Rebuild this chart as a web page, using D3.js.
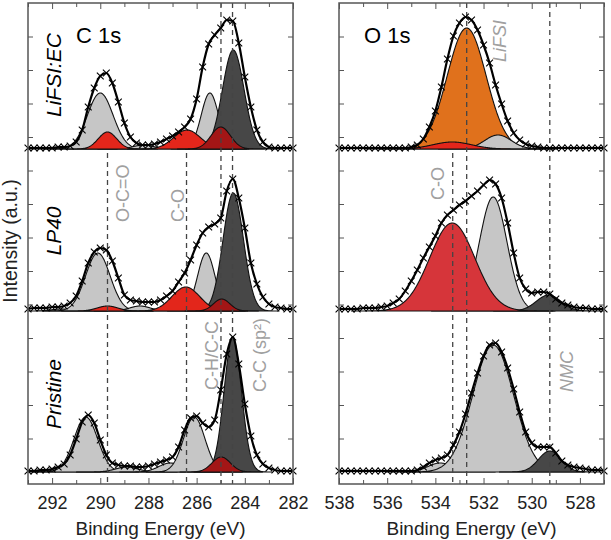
<!DOCTYPE html>
<html><head><meta charset="utf-8">
<script src="https://cdn.jsdelivr.net/npm/d3@7"></script>
<style>
body{margin:0;background:#fff}
svg{display:block}
text{font-family:"Liberation Sans",Arial,sans-serif}
</style>
</head><body>
<svg id="c" width="611" height="540"></svg>
<script>
// ---------- DATA ----------
// binding-energy grids (eV), 0.25 eV steps
const c1sEnergy = d3.range(0, 45).map(i => 293 - i * 0.25);
const o1sEnergy = d3.range(0, 45).map(i => 538 - i * 0.25);
const samples = ["LiFSI:EC", "LP40", "Pristine"];

// measured spectra (a.u.)
const c1sLiFSI = [1,1,1,1,1,2,2,3,7,19,42,61,73,76,66,47,26,12,6,4,4,5,7,10,13,17,22,30,50,82,105,114,121,129,128,106,72,42,19,7,2,1,1,1,1];
const c1sLP40 = [2,3,3,3,4,4,5,8,15,30,48,59,63,61,50,33,16,11,10,9,9,9,11,15,20,29,38,51,66,78,84,87,93,120,132,113,83,48,27,14,7,4,3,2,2];
const c1sPristine = [1,1,2,2,3,5,8,17,33,50,57,49,32,17,9,7,6,6,5,5,6,8,10,12,15,25,42,54,56,49,45,52,82,118,135,108,68,36,17,8,4,2,1,1,1];
const o1sLiFSI = [1,1,1,1,1,1,1,1,1,1,1,1,2,4,10,22,38,62,90,113,126,132,129,119,104,86,64,45,28,16,9,5,3,2,1,1,1,1,1,1,1,1,1,1,1];
const o1sLP40 = [2,2,2,2,3,3,3,4,5,8,12,20,30,41,53,64,75,88,96,101,106,110,115,120,126,131,127,113,88,58,33,22,18,19,19,17,12,8,6,4,3,3,2,2,2];
const o1sPristine = [1,1,1,1,1,1,1,1,1,1,1,1,1,2,5,9,12,14,17,27,40,58,79,99,116,127,129,120,104,83,60,40,29,25,25,25,19,11,7,5,4,3,2,2,1];

// fitted components: centre (eV), height (a.u.), FWHM (eV), species
const c1sLiFSIPos = [291.2, 290.0, 288.2, 285.45, 284.48, 289.7, 286.4, 285.0];
const c1sLiFSIHt  = [2, 56, 4, 56, 99, 17, 19, 22];
const c1sLiFSIFw  = [1.0, 1.25, 1.0, 0.85, 1.05, 0.9, 1.3, 0.95];
const c1sLiFSIKind = ["lg","lg","lg","lg","dg","r","r","dr"];

const c1sLP40Pos = [291.6, 290.1, 288.35, 285.6, 284.48, 289.7, 286.45, 284.96];
const c1sLP40Ht  = [2, 58, 5, 58, 118, 5, 24, 12];
const c1sLP40Fw  = [1.0, 1.2, 1.0, 0.85, 1.0, 1.0, 1.35, 0.8];
const c1sLP40Kind = ["lg","lg","lg","lg","dg","r","r","dr"];

const c1sPristinePos = [291.9, 290.6, 288.9, 287.1, 286.1, 284.5, 284.98];
const c1sPristineHt  = [2, 55, 5, 9, 55, 134, 15];
const c1sPristineFw  = [1.0, 1.15, 1.1, 1.1, 1.05, 0.85, 0.9];
const c1sPristineKind = ["lg","lg","lg","lg","lg","dg","dr"];

const o1sLiFSIPos = [532.7, 531.4, 533.3];
const o1sLiFSIHt  = [121, 14, 7];
const o1sLiFSIFw  = [1.9, 1.3, 1.9];
const o1sLiFSIKind = ["or","lg","r"];

const o1sLP40Pos = [531.6, 529.3, 533.3];
const o1sLP40Ht  = [114, 16, 88];
const o1sLP40Fw  = [1.35, 1.2, 2.2];
const o1sLP40Kind = ["lg","dg","r2"];

const o1sPristinePos = [533.8, 531.6, 529.25];
const o1sPristineHt  = [9, 127, 21];
const o1sPristineFw  = [1.2, 2.0, 1.1];
const o1sPristineKind = ["lg","lg","dg"];

// reference binding energies (dashed lines)
const c1sRefs = [289.7, 286.42, 284.99, 284.51];
const o1sRefs = [533.28, 532.7, 529.25];
const c1sTicks = d3.range(282, 294, 1);
const o1sTicks = d3.range(527, 539, 1);

// ---------- DRAW ----------
const svg = d3.select("#c");
const xL = d3.scaleLinear().domain([293, 282]).range([28, 293]);
const xR = d3.scaleLinear().domain([538, 527]).range([339, 604]);
const y = d3.scaleLinear().domain([-12, 469]).range([484, 3]);
const offsets = [323, 161, 0];
const colors = {lg:"#c6c6c6", dg:"#474747", r:"#e3261b", dr:"#a31616", or:"#e0711c", r2:"#d6353a"};

const panels = [
  {x:xL, E:c1sEnergy, d:c1sLiFSI, p:c1sLiFSIPos, h:c1sLiFSIHt, w:c1sLiFSIFw, k:c1sLiFSIKind, off:offsets[0]},
  {x:xL, E:c1sEnergy, d:c1sLP40, p:c1sLP40Pos, h:c1sLP40Ht, w:c1sLP40Fw, k:c1sLP40Kind, off:offsets[1]},
  {x:xL, E:c1sEnergy, d:c1sPristine, p:c1sPristinePos, h:c1sPristineHt, w:c1sPristineFw, k:c1sPristineKind, off:offsets[2]},
  {x:xR, E:o1sEnergy, d:o1sLiFSI, p:o1sLiFSIPos, h:o1sLiFSIHt, w:o1sLiFSIFw, k:o1sLiFSIKind, off:offsets[0]},
  {x:xR, E:o1sEnergy, d:o1sLP40, p:o1sLP40Pos, h:o1sLP40Ht, w:o1sLP40Fw, k:o1sLP40Kind, off:offsets[1]},
  {x:xR, E:o1sEnergy, d:o1sPristine, p:o1sPristinePos, h:o1sPristineHt, w:o1sPristineFw, k:o1sPristineKind, off:offsets[2]}
];

const gauss = (e, c, h, w) => h * Math.exp(-4 * Math.LN2 * (e - c) * (e - c) / (w * w));

panels.forEach(P => {
  const g = svg.append("g");
  const [d0, d1] = P.x.domain();
  P.p.forEach((c, i) => {
    const lo = Math.max(Math.min(d0, d1), c - 1.9 * P.w[i]);
    const hi = Math.min(Math.max(d0, d1), c + 1.9 * P.w[i]);
    const es = d3.range(lo, hi + 1e-9, 0.02);
    const area = d3.area()
      .x(e => P.x(e))
      .y0(y(P.off))
      .y1(e => y(P.off + gauss(e, c, P.h[i], P.w[i])));
    g.append("path").datum(es).attr("d", area)
      .attr("fill", colors[P.k[i]]).attr("stroke", "#111").attr("stroke-width", 1.1)
      .attr("stroke-linejoin", "round");
  });
});

// dashed reference lines
const dash = svg.append("g").attr("stroke", "#444").attr("stroke-width", 1.3).attr("stroke-dasharray", "5,4");
c1sRefs.forEach((e, i) => {
  dash.append("line").attr("x1", xL(e)).attr("x2", xL(e))
    .attr("y1", i < 2 ? y(offsets[0]) + 4 : 3).attr("y2", 484);
});
o1sRefs.forEach((e, i) => {
  dash.append("line").attr("x1", xR(e)).attr("x2", xR(e))
    .attr("y1", i === 0 ? y(offsets[0]) + 4 : 3).attr("y2", 484);
});

// measured envelopes with markers
panels.forEach(P => {
  const g = svg.append("g");
  const pts = P.E.map((e, i) => [e, P.d[i]]);
  g.append("path").datum(pts)
    .attr("d", d3.line().x(d => P.x(d[0])).y(d => y(P.off + d[1])).curve(d3.curveMonotoneX))
    .attr("fill", "none").attr("stroke", "#000").attr("stroke-width", 2.2);
  g.selectAll("path.m").data(pts).join("path").attr("class", "m")
    .attr("transform", d => `translate(${P.x(d[0])},${y(P.off + d[1])})`)
    .attr("d", d3.symbol(d3.symbolX, 32))
    .attr("fill", "none").attr("stroke", "#000").attr("stroke-width", 1.1);
});

// frames and axes
const yTickVals = d3.range(1, 14).map(k => k * 33.5);
[xL, xR].forEach((xs, ci) => {
  const [r0, r1] = xs.range();
  const ticks = ci === 0 ? c1sTicks : o1sTicks;
  const major = ticks.filter(t => t % 2 === 0);
  const minor = ticks.filter(t => t % 2 !== 0);
  const ax = svg.append("g").attr("color", "#555");
  ax.append("g").attr("transform", "translate(0,484)")
    .call(d3.axisBottom(xs).tickValues(major).tickSize(-6).tickPadding(12).tickFormat(d3.format("d")));
  ax.append("g").attr("transform", "translate(0,484)")
    .call(d3.axisBottom(xs).tickValues(minor).tickSize(-4).tickFormat(""));
  ax.append("g").attr("transform", "translate(0,3)")
    .call(d3.axisTop(xs).tickValues(major).tickSize(-6).tickFormat(""));
  ax.append("g").attr("transform", "translate(0,3)")
    .call(d3.axisTop(xs).tickValues(minor).tickSize(-4).tickFormat(""));
  ax.append("g").attr("transform", `translate(${r0},0)`)
    .call(d3.axisLeft(y).tickValues(yTickVals).tickSize(-5).tickFormat(""));
  ax.append("g").attr("transform", `translate(${r1},0)`)
    .call(d3.axisRight(y).tickValues(yTickVals).tickSize(-5).tickFormat(""));
  ax.selectAll(".domain").remove();
  ax.selectAll("text").attr("fill", "#222").style("font-size", "18px")
    .style("font-family", "'Liberation Sans',Arial,sans-serif");
  ax.append("rect").attr("x", r0).attr("y", 3).attr("width", r1 - r0).attr("height", 481)
    .attr("fill", "none").attr("stroke", "#555").attr("stroke-width", 1.5);
  svg.append("text").attr("x", (r0 + r1) / 2).attr("y", 535).attr("text-anchor", "middle")
    .style("font-size", "19px").attr("fill", "#222").text("Binding Energy (eV)");
});

// titles
svg.append("text").attr("x", 76).attr("y", 43).style("font-size", "22px").text("C 1s");
svg.append("text").attr("x", 364).attr("y", 43).style("font-size", "22px").text("O 1s");
svg.append("text").attr("transform", "translate(17,241) rotate(-90)").attr("text-anchor", "middle")
  .style("font-size", "19.5px").attr("fill", "#222").text("Intensity (a.u.)");

// sample labels
const sampleY = [75, 231, 394];
samples.forEach((s, i) => {
  svg.append("text").attr("transform", `translate(61,${sampleY[i]}) rotate(-90)`)
    .attr("text-anchor", "middle").style("font-size", "21px").style("font-style", "italic").text(s);
});

// species labels (gray)
const lab = (x, yb, t, it) => svg.append("text").attr("transform", `translate(${x},${yb}) rotate(-90)`)
  .attr("fill", "#a0a0a0").style("font-size", "18px").style("font-style", it ? "italic" : "normal").text(t);
lab(xL(289.7) + 21, 222, "O-C=O", false);
lab(xL(286.42) - 3, 222, "C-O", false);
lab(xL(284.99) - 3, 390, "C-H/C-C", false);
lab(xL(284.51) + 33, 392, "C-C (sp²)", false);
lab(xR(532.7) + 39, 62, "LiFSI", true);
lab(xR(533.28) - 9, 200, "C-O", false);
lab(xR(529.25) + 23, 392, "NMC", true);
</script>
</body></html>
